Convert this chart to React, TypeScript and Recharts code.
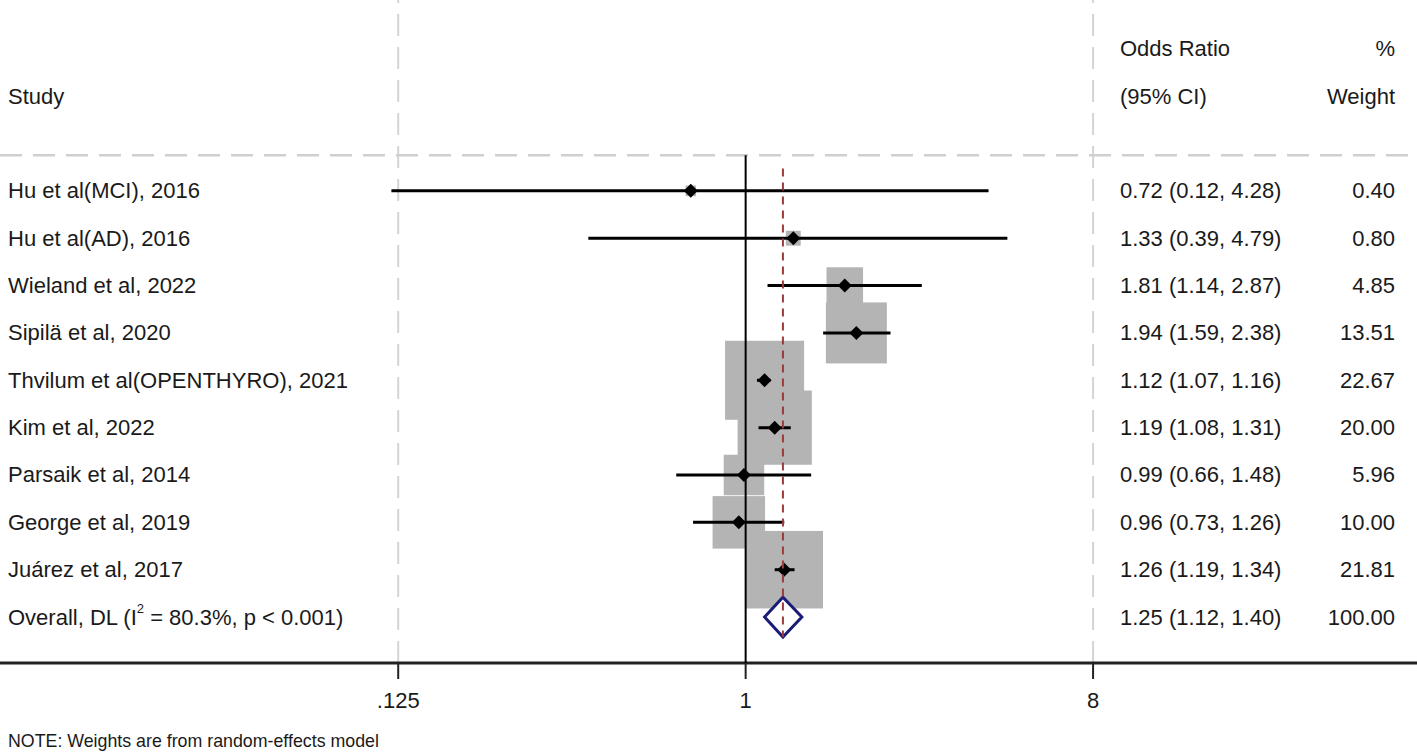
import { ScatterChart, Scatter, XAxis, YAxis, ReferenceLine } from 'recharts';

// study rows, top to bottom
const studies = [
  'Hu et al(MCI), 2016',
  'Hu et al(AD), 2016',
  'Wieland et al, 2022',
  'Sipilä et al, 2020',
  'Thvilum et al(OPENTHYRO), 2021',
  'Kim et al, 2022',
  'Parsaik et al, 2014',
  'George et al, 2019',
  'Juárez et al, 2017',
];
const oddsRatios = [0.72, 1.33, 1.81, 1.94, 1.12, 1.19, 0.99, 0.96, 1.26];
const ciLower = [0.12, 0.39, 1.14, 1.59, 1.07, 1.08, 0.66, 0.73, 1.19];
const ciUpper = [4.28, 4.79, 2.87, 2.38, 1.16, 1.31, 1.48, 1.26, 1.34];
const weights = [0.4, 0.8, 4.85, 13.51, 22.67, 20.0, 5.96, 10.0, 21.81];

const overallOR = 1.25;
const overallLower = 1.12;
const overallUpper = 1.4;
const overallWeight = 100;
const overallI2 = '80.3%';
const overallP = 'p < 0.001';

const xTicks = [0.125, 1, 8];
const note = 'NOTE: Weights are from random-effects model';

// layout / styling
const FONT = '"Liberation Sans", Arial, sans-serif';
const TEXT = '#1a1a1a';
const BOX_SCALE = 16.6;
const ROW_MIN = -4.03;
const ROW_MAX = 9.97;
const HEADER_LINE = -0.75;
const OVERALL_ROW = studies.length;

const fmt = (v: number) => v.toFixed(2);

const studyData = studies.map((name, i) => ({
  x: oddsRatios[i],
  y: i,
  weight: weights[i],
}));

// one two-point segment per study for the confidence interval
const ciSegments = studies.map((name, i) => [
  { x: ciLower[i], y: i },
  { x: ciUpper[i], y: i },
]);

const textRows = [
  { x: 1, y: -3, left: '', mid: 'Odds Ratio', right: '%' },
  { x: 1, y: -2, left: 'Study', mid: '(95% CI)', right: 'Weight' },
  ...studies.map((name, i) => ({
    x: oddsRatios[i],
    y: i,
    left: name,
    mid: `${fmt(oddsRatios[i])} (${fmt(ciLower[i])}, ${fmt(ciUpper[i])})`,
    right: fmt(weights[i]),
  })),
  {
    x: overallOR,
    y: OVERALL_ROW,
    left: 'overall',
    mid: `${fmt(overallOR)} (${fmt(overallLower)}, ${fmt(overallUpper)})`,
    right: fmt(overallWeight),
  },
];

const diamondHalf = 0.42;
const overallDiamond = [
  { x: overallLower, y: OVERALL_ROW },
  { x: overallOR, y: OVERALL_ROW - diamondHalf },
  { x: overallUpper, y: OVERALL_ROW },
  { x: overallOR, y: OVERALL_ROW + diamondHalf },
];

const nullLine = [
  { x: 1, y: HEADER_LINE },
  { x: 1, y: ROW_MAX },
];
const overallLine = [
  { x: overallOR, y: -0.47 },
  { x: overallOR, y: OVERALL_ROW + 0.42 },
];

const Empty = () => <g />;

const WeightBox = (props: any) => {
  const s = BOX_SCALE * Math.sqrt(props.payload.weight);
  return <rect x={props.cx - s / 2} y={props.cy - s / 2} width={s} height={s} fill="#b4b4b4" />;
};

const Marker = (props: any) => {
  const { cx, cy } = props;
  const h = 7;
  return <polygon points={`${cx - h},${cy} ${cx},${cy - h} ${cx + h},${cy} ${cx},${cy + h}`} fill="#000" />;
};

const RowText = (props: any) => {
  const { cy, payload } = props;
  const common = { y: cy, dominantBaseline: 'central' as const, fontFamily: FONT, fontSize: 22, fill: TEXT };
  return (
    <g>
      <text x={8} {...common}>
        {payload.left === 'overall' ? (
          <>
            Overall, DL (I
            <tspan dy={-9} fontSize={13}>2</tspan>
            <tspan dy={9}>{` = ${overallI2}, ${overallP})`}</tspan>
          </>
        ) : (
          payload.left
        )}
      </text>
      <text x={1120} {...common}>{payload.mid}</text>
      <text x={1395} textAnchor="end" {...common}>{payload.right}</text>
    </g>
  );
};

export default function App() {
  return (
    <div style={{ position: 'absolute', left: 0, top: 0, width: 1417, height: 756, background: '#fff' }}>
      <ScatterChart width={1417} height={756} margin={{ top: 0, right: 0, bottom: 0, left: 0 }}>
        <XAxis
          type="number"
          dataKey="x"
          scale="log"
          domain={[0.01153, 55.6]}
          allowDataOverflow
          ticks={xTicks}
          tickFormatter={(v: number) => (v < 1 ? String(v).replace(/^0/, '') : String(v))}
          height={93}
          axisLine={{ stroke: '#222', strokeWidth: 3 }}
          tickLine={{ stroke: '#222', strokeWidth: 2 }}
          tickSize={16}
          tickMargin={13}
          tick={{ fontSize: 22, fontFamily: FONT, fill: TEXT }}
        />
        <YAxis type="number" dataKey="y" domain={[ROW_MIN, ROW_MAX]} reversed hide allowDataOverflow />
        <ReferenceLine x={0.125} stroke="#d4d4d4" strokeWidth={2} strokeDasharray="22 11" />
        <ReferenceLine x={8} stroke="#d4d4d4" strokeWidth={2} strokeDasharray="22 11" />
        <ReferenceLine y={HEADER_LINE} stroke="#cfcfcf" strokeWidth={2.5} strokeDasharray="22 11" />
        <Scatter data={studyData} shape={WeightBox} isAnimationActive={false} />
        <Scatter
          data={nullLine}
          line={{ stroke: '#000', strokeWidth: 2 }}
          lineType="joint"
          shape={Empty}
          isAnimationActive={false}
        />
        {ciSegments.map((seg, i) => (
          <Scatter
            key={`ci-${i}`}
            data={seg}
            line={{ stroke: '#000', strokeWidth: 3 }}
            lineType="joint"
            shape={Empty}
            isAnimationActive={false}
          />
        ))}
        <Scatter data={studyData} shape={Marker} isAnimationActive={false} />
        <Scatter
          data={overallDiamond}
          line={(p: any) => (
            <polygon
              points={p.points.map((pt: any) => `${pt.x},${pt.y}`).join(' ')}
              fill="#fff"
              stroke="#1c1c78"
              strokeWidth={3}
            />
          )}
          lineType="joint"
          shape={Empty}
          isAnimationActive={false}
        />
        <Scatter
          data={overallLine}
          line={{ stroke: '#9b3b3b', strokeWidth: 2, strokeDasharray: '8 6' }}
          lineType="joint"
          shape={Empty}
          isAnimationActive={false}
        />
        <Scatter data={textRows} shape={RowText} isAnimationActive={false} />
      </ScatterChart>
      <div
        style={{
          position: 'absolute',
          left: 8,
          top: 731,
          fontFamily: FONT,
          fontSize: 17.8,
          lineHeight: '20px',
          color: TEXT,
          whiteSpace: 'nowrap',
        }}
      >
        {note}
      </div>
    </div>
  );
}
